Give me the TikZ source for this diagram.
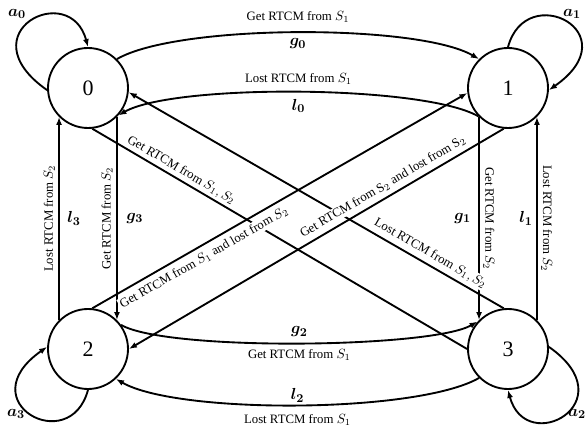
\documentclass[tikz,border=0pt]{standalone}
\usepackage{fontspec}
\setmainfont{Liberation Serif}
\usepackage{amsmath,bm}
\usetikzlibrary{arrows.meta}

\begin{document}
\begin{tikzpicture}[x=0.75pt,y=0.75pt,
  state/.style={circle,draw,line width=1.4pt,minimum size=60pt,inner sep=0pt,font=\fontsize{16.5}{18}\selectfont},
  link/.style={line width=1.4pt,-{Latex[length=6pt,width=4.5pt]}},
  plain/.style={line width=1.4pt},
  txt/.style={font=\fontsize{9.6}{11}\selectfont,inner sep=1.5pt},
  sym/.style={font=\fontsize{13}{15}\selectfont,inner sep=1.5pt},
  cut/.style={txt,fill=white,inner sep=1pt}]
\useasboundingbox (0,0) rectangle (585,428);
% states
\node[state] (s0) at (88,340) {0};
\node[state] (s1) at (508,340) {1};
\node[state] (s2) at (88,79) {2};
\node[state] (s3) at (508,79) {3};
% self loops
\draw[link] (s0.183) to[out=145,in=105,out distance=75pt,in distance=52.5pt] (s0.90);
\draw[link] (s1.90) to[out=75,in=35,out distance=52.5pt,in distance=75pt] (s1.-3);
\draw[link] (s2.270) to[out=255,in=215,out distance=52.5pt,in distance=72pt] (s2.177);
\draw[link] (s3.3) to[out=-35,in=-75,out distance=72pt,in distance=52.5pt] (s3.270);
\node[sym] (a0) at (17,414) {$\bm{a_0}$};
\node[sym] (a1) at (572,414) {$\bm{a_1}$};
\node[sym] (a3) at (16,14) {$\bm{a_3}$};
\node[sym] (a2) at (577,14) {$\bm{a_2}$};
% top and bottom arcs
\draw[link] (s0.45) to[out=30,in=150,looseness=0.5]
  node[txt,midway,above=5.7pt] (g0txt) {Get RTCM from $S_1$}
  node[sym,midway,below=2.5pt] (g0) {$\bm{g_0}$} (s1.135);
\draw[link] (s1.224) to[out=150,in=30,looseness=0.45]
  node[txt,midway,above=3.5pt] (l0txt) {Lost RTCM from $S_1$}
  node[sym,midway,below=3pt] (l0) {$\bm{l_0}$} (s0.-42);
\draw[link] (s2.36) to[out=-30,in=210,looseness=0.38]
  node[sym,midway,above=2.5pt] (g2) {$\bm{g_2}$}
  node[txt,midway,below=2.7pt] (g2txt) {Get RTCM from $S_1$} (s3.138);
\draw[link] (s3.225) to[out=210,in=-30,looseness=0.5]
  node[sym,midway,above=0pt] (l2) {$\bm{l_2}$}
  node[txt,midway,below=4.5pt] (l2txt) {Lost RTCM from $S_1$} (s2.-47);
% vertical links
\draw[link] (s0.-45) -- node[txt,midway,rotate=90,anchor=south,inner sep=2.5pt] (g3txt) {Get RTCM from $S_2$}
  node[sym,midway,right=5pt] (g3) {$\bm{g_3}$} (s2.45);
\draw[link] (s2.135) -- node[txt,midway,rotate=90,anchor=south,inner sep=2.5pt] (l3txt) {Lost RTCM from $S_2$}
  node[sym,midway,right=4pt] (l3) {$\bm{l_3}$} (s0.225);
\draw[link] (s1.225) -- node[txt,midway,rotate=-90,anchor=south,inner sep=2.5pt] (g1txt) {Get RTCM from $S_2$}
  node[sym,midway,left=4pt] (g1) {$\bm{g_1}$} (s3.135);
\draw[link] (s3.45) -- node[txt,midway,rotate=-90,anchor=south,inner sep=2.5pt] (l1txt) {Lost RTCM from $S_2$}
  node[sym,midway,left=1pt] (l1) {$\bm{l_1}$} (s1.-45);
% diagonals
\draw[plain] (s0.-84) -- node[cut,pos=0.225,sloped,above=0.8pt] (atxt) {Get RTCM from $S_1, S_2$} (s3.180);
\draw[link] (s3.96) -- node[cut,pos=0.21,sloped,above=2pt] (btxt) {Lost RTCM from $S_1, S_2$} (s0.-6);
\draw[link] (s2.84) -- node[cut,pos=0.282,sloped,below=3pt] (ctxt) {Get RTCM from $S_1$ and lost from $S_2$} (s1.187);
\draw[link] (s1.-96) -- node[cut,pos=0.3075,sloped,above=2.5pt] (dtxt) {Get RTCM from S$_2$ and lost from S$_2$} (s2.0);
\end{tikzpicture}
\end{document}
